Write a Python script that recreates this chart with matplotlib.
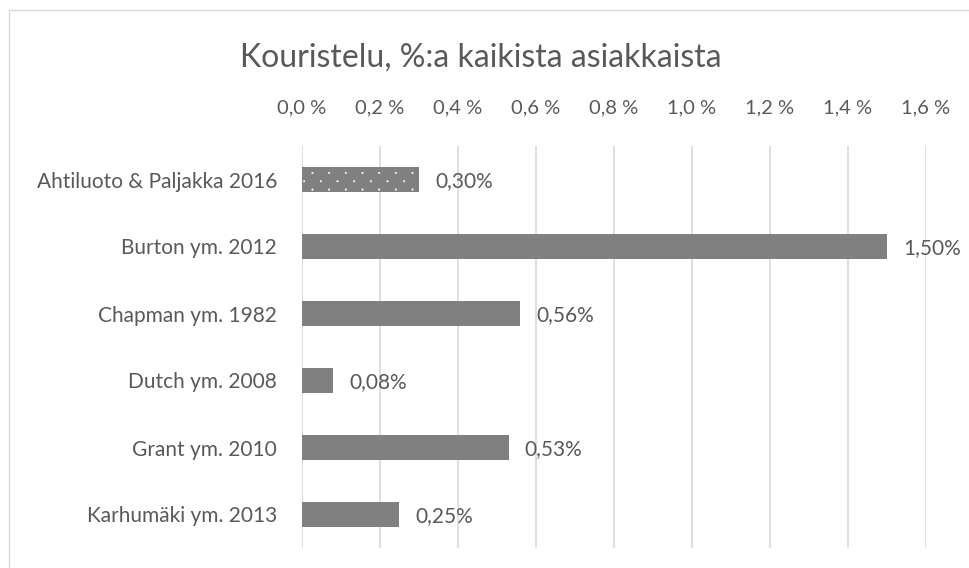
import matplotlib
matplotlib.use("Agg")
import numpy as np
import matplotlib.pyplot as plt
from matplotlib.lines import Line2D
from matplotlib import hatch as mhatch
from matplotlib.path import Path

categories = ["Ahtiluoto & Paljakka 2016", "Burton ym. 2012", "Chapman ym. 1982",
              "Dutch ym. 2008", "Grant ym. 2010", "Karhumäki ym. 2013"]
values = [0.30, 1.50, 0.56, 0.08, 0.53, 0.25]
value_labels = ["0,30%", "1,50%", "0,56%", "0,08%", "0,53%", "0,25%"]
xticks = [0.0, 0.2, 0.4, 0.6, 0.8, 1.0, 1.2, 1.4, 1.6]
xtick_labels = ["0,0 %", "0,2 %", "0,4 %", "0,6 %", "0,8 %", "1,0 %", "1,2 %", "1,4 %", "1,6 %"]
title = "Kouristelu, %:a kaikista asiakkaista"


# fine, staggered dot pattern (like Excel's "5%" pattern) for the '.' hatch
class FineDots(mhatch.HatchPatternBase):
    filled = True

    def __init__(self, hatch, density):
        n = hatch.count('.')
        circ = Path.unit_circle()
        self.sv = circ.vertices
        self.sc = circ.codes
        self.pts = []
        if n:
            nrows, ncols = 12, 6
            for i in range(nrows):
                for j in range(ncols):
                    x = (j + (0.5 if i % 2 else 0.0)) / ncols + 1 / 24
                    y = i / nrows + 1 / 48
                    self.pts.append((x % 1.0, y))
        self.num_vertices = len(self.pts) * len(self.sv)

    def set_vertices_and_codes(self, vertices, codes):
        r = 0.008
        vparts = [self.sv * r + np.array(p) for p in self.pts]
        cparts = [self.sc for _ in self.pts]
        vertices[:] = np.concatenate(vparts)
        codes[:] = np.concatenate(cparts)


mhatch._hatch_types = [FineDots if t is mhatch.SmallFilledCircles else t
                       for t in mhatch._hatch_types]

plt.rcParams['font.family'] = ['Lato', 'DejaVu Sans']
plt.rcParams['hatch.linewidth'] = 0.3
text_color = "#595959"
bar_color = "#808080"
grid_color = "#D9D9D9"

fig = plt.figure(figsize=(9.7, 5.68), dpi=100)
fig.lines.append(Line2D([9/970, 9/970], [0, 1 - 10/568], transform=fig.transFigure,
                        color=grid_color, linewidth=1.0))
fig.lines.append(Line2D([9/970, 1], [1 - 10/568, 1 - 10/568], transform=fig.transFigure,
                        color=grid_color, linewidth=1.0))
ax = fig.add_axes([302/970, 1 - 548/568, (926 - 302)/970, (548 - 146)/568])

y = list(range(len(categories)))
bars = ax.barh(y, values, height=0.36, color=bar_color, zorder=3)
# first bar: dotted pattern
bars[0].set_hatch('.')
bars[0].set_edgecolor('white')
bars[0].set_linewidth(0)

for yi, v, lab in zip(y, values, value_labels):
    ax.annotate(lab, (v, yi), xytext=(11.5, -1.5), textcoords='offset points',
                va='center', ha='left', fontsize=15, color=text_color)

ax.set_xlim(0, 1.6)
ax.set_ylim(len(categories) - 0.5, -0.5)
ax.set_xticks(xticks)
ax.set_xticklabels(xtick_labels)
ax.set_yticks(y)
ax.set_yticklabels(categories)
ax.xaxis.tick_top()
ax.tick_params(axis='x', length=0, pad=21, labelsize=14.5, labelcolor=text_color)
ax.tick_params(axis='y', length=0, pad=18, labelsize=15, labelcolor=text_color)
ax.grid(axis='x', color=grid_color, linewidth=1.2, zorder=0)
ax.set_axisbelow(True)
for s in ax.spines.values():
    s.set_visible(False)

fig.text(481/970, 1 - 58/568, title, ha='center', va='center', fontsize=23, color=text_color)

fig.savefig("out.png", dpi=100)
